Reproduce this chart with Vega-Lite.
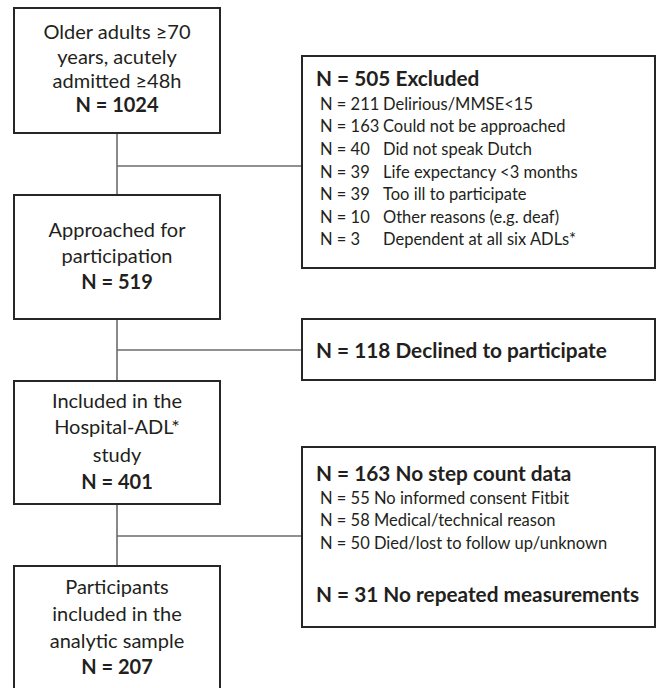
{
  "$schema": "https://vega.github.io/schema/vega-lite/v6.json",
  "width": 658,
  "height": 688,
  "padding": 0,
  "autosize": {"type": "fit", "contains": "padding"},
  "background": "white",
  "config": {"view": {"stroke": null}},
  "datasets": {
    "boxes": [
      {"box": "Older adults", "x0": 14, "x1": 220, "y0": 8, "y1": 133},
      {"box": "Approached", "x0": 14, "x1": 220, "y0": 195, "y1": 319},
      {"box": "Included", "x0": 14, "x1": 220, "y0": 381, "y1": 504},
      {"box": "Analytic sample", "x0": 14, "x1": 220, "y0": 566, "y1": 700},
      {"box": "Excluded", "x0": 302, "x1": 655, "y0": 56, "y1": 268},
      {"box": "Declined", "x0": 302, "x1": 655, "y0": 319, "y1": 380},
      {"box": "No step count", "x0": 302, "x1": 655, "y0": 447, "y1": 627}
    ],
    "links": [
      {"link": "v1", "x0": 117, "x1": 117, "y0": 133, "y1": 195},
      {"link": "h1", "x0": 117, "x1": 302, "y0": 166, "y1": 166},
      {"link": "v2", "x0": 117, "x1": 117, "y0": 319, "y1": 381},
      {"link": "h2", "x0": 117, "x1": 302, "y0": 350, "y1": 350},
      {"link": "v3", "x0": 117, "x1": 117, "y0": 504, "y1": 566},
      {"link": "h3", "x0": 117, "x1": 302, "y0": 536, "y1": 536}
    ],
    "labels": [
      {"kind": "main", "label": "Older adults ≥70", "x": 117, "y": 33},
      {"kind": "main", "label": "years, acutely", "x": 117, "y": 58},
      {"kind": "main", "label": "admitted ≥48h", "x": 117, "y": 82},
      {"kind": "mainBold", "label": "N = 1024", "x": 117, "y": 106},
      {"kind": "main", "label": "Approached for", "x": 117, "y": 231},
      {"kind": "main", "label": "participation", "x": 117, "y": 257},
      {"kind": "mainBold", "label": "N = 519", "x": 117, "y": 283},
      {"kind": "main", "label": "Included in the", "x": 117, "y": 402},
      {"kind": "main", "label": "Hospital-ADL*", "x": 117, "y": 428},
      {"kind": "main", "label": "study", "x": 117, "y": 456},
      {"kind": "mainBold", "label": "N = 401", "x": 117, "y": 483},
      {"kind": "main", "label": "Participants", "x": 117, "y": 588},
      {"kind": "main", "label": "included in the", "x": 117, "y": 615},
      {"kind": "main", "label": "analytic sample", "x": 117, "y": 642},
      {"kind": "mainBold", "label": "N = 207", "x": 117, "y": 668},
      {"kind": "head", "label": "N = 505 Excluded", "x": 316, "y": 80},
      {"kind": "count", "label": "N = 211", "x": 320, "y": 105},
      {"kind": "reason", "label": "Delirious/MMSE<15", "x": 383, "y": 105},
      {"kind": "count", "label": "N = 163", "x": 320, "y": 127},
      {"kind": "reason", "label": "Could not be approached", "x": 383, "y": 127},
      {"kind": "count", "label": "N = 40", "x": 320, "y": 150},
      {"kind": "reason", "label": "Did not speak Dutch", "x": 383, "y": 150},
      {"kind": "count", "label": "N = 39", "x": 320, "y": 173},
      {"kind": "reason", "label": "Life expectancy <3 months", "x": 383, "y": 173},
      {"kind": "count", "label": "N = 39", "x": 320, "y": 195},
      {"kind": "reason", "label": "Too ill to participate", "x": 383, "y": 195},
      {"kind": "count", "label": "N = 10", "x": 320, "y": 218},
      {"kind": "reason", "label": "Other reasons (e.g. deaf)", "x": 383, "y": 218},
      {"kind": "count", "label": "N = 3", "x": 320, "y": 240},
      {"kind": "reason", "label": "Dependent at all six ADLs*", "x": 383, "y": 240},
      {"kind": "head", "label": "N = 118 Declined to participate", "x": 316, "y": 352},
      {"kind": "head", "label": "N = 163 No step count data", "x": 316, "y": 475},
      {"kind": "count", "label": "N = 55 No informed consent Fitbit", "x": 320, "y": 499},
      {"kind": "count", "label": "N = 58 Medical/technical reason", "x": 320, "y": 521},
      {"kind": "count", "label": "N = 50 Died/lost to follow up/unknown", "x": 320, "y": 544},
      {"kind": "head", "label": "N = 31 No repeated measurements", "x": 316, "y": 596}
    ]
  },
  "layer": [
    {
      "data": {"name": "links"},
      "mark": {"type": "rule", "stroke": "#6b6b6b", "strokeWidth": 1.6},
      "encoding": {
        "x": {"field": "x0", "type": "quantitative", "scale": {"domain": [0, 658], "nice": false, "zero": false}, "axis": null},
        "x2": {"field": "x1"},
        "y": {"field": "y0", "type": "quantitative", "scale": {"domain": [0, 688], "nice": false, "zero": false, "reverse": true}, "axis": null},
        "y2": {"field": "y1"}
      }
    },
    {
      "data": {"name": "boxes"},
      "mark": {"type": "rect", "fill": "white", "stroke": "#262626", "strokeWidth": 2, "clip": true},
      "encoding": {
        "x": {"field": "x0", "type": "quantitative", "axis": null},
        "x2": {"field": "x1"},
        "y": {"field": "y0", "type": "quantitative", "axis": null},
        "y2": {"field": "y1"}
      }
    },
    {
      "data": {"name": "labels"},
      "transform": [{"filter": "datum.kind === 'main'"}],
      "mark": {"type": "text", "align": "center", "baseline": "middle", "font": "Lato", "fontSize": 20, "color": "#231f20"},
      "encoding": {
        "x": {"field": "x", "type": "quantitative"},
        "y": {"field": "y", "type": "quantitative"},
        "text": {"field": "label"}
      }
    },
    {
      "data": {"name": "labels"},
      "transform": [{"filter": "datum.kind === 'mainBold'"}],
      "mark": {"type": "text", "align": "center", "baseline": "middle", "font": "Lato", "fontSize": 20, "fontWeight": "bold", "color": "#231f20"},
      "encoding": {
        "x": {"field": "x", "type": "quantitative"},
        "y": {"field": "y", "type": "quantitative"},
        "text": {"field": "label"}
      }
    },
    {
      "data": {"name": "labels"},
      "transform": [{"filter": "datum.kind === 'head'"}],
      "mark": {"type": "text", "align": "left", "baseline": "middle", "font": "Lato", "fontSize": 20.8, "fontWeight": "bold", "color": "#231f20"},
      "encoding": {
        "x": {"field": "x", "type": "quantitative"},
        "y": {"field": "y", "type": "quantitative"},
        "text": {"field": "label"}
      }
    },
    {
      "data": {"name": "labels"},
      "transform": [{"filter": "datum.kind === 'count' || datum.kind === 'reason'"}],
      "mark": {"type": "text", "align": "left", "baseline": "middle", "font": "Lato", "fontSize": 16.5, "color": "#231f20"},
      "encoding": {
        "x": {"field": "x", "type": "quantitative"},
        "y": {"field": "y", "type": "quantitative"},
        "text": {"field": "label"}
      }
    }
  ]
}
